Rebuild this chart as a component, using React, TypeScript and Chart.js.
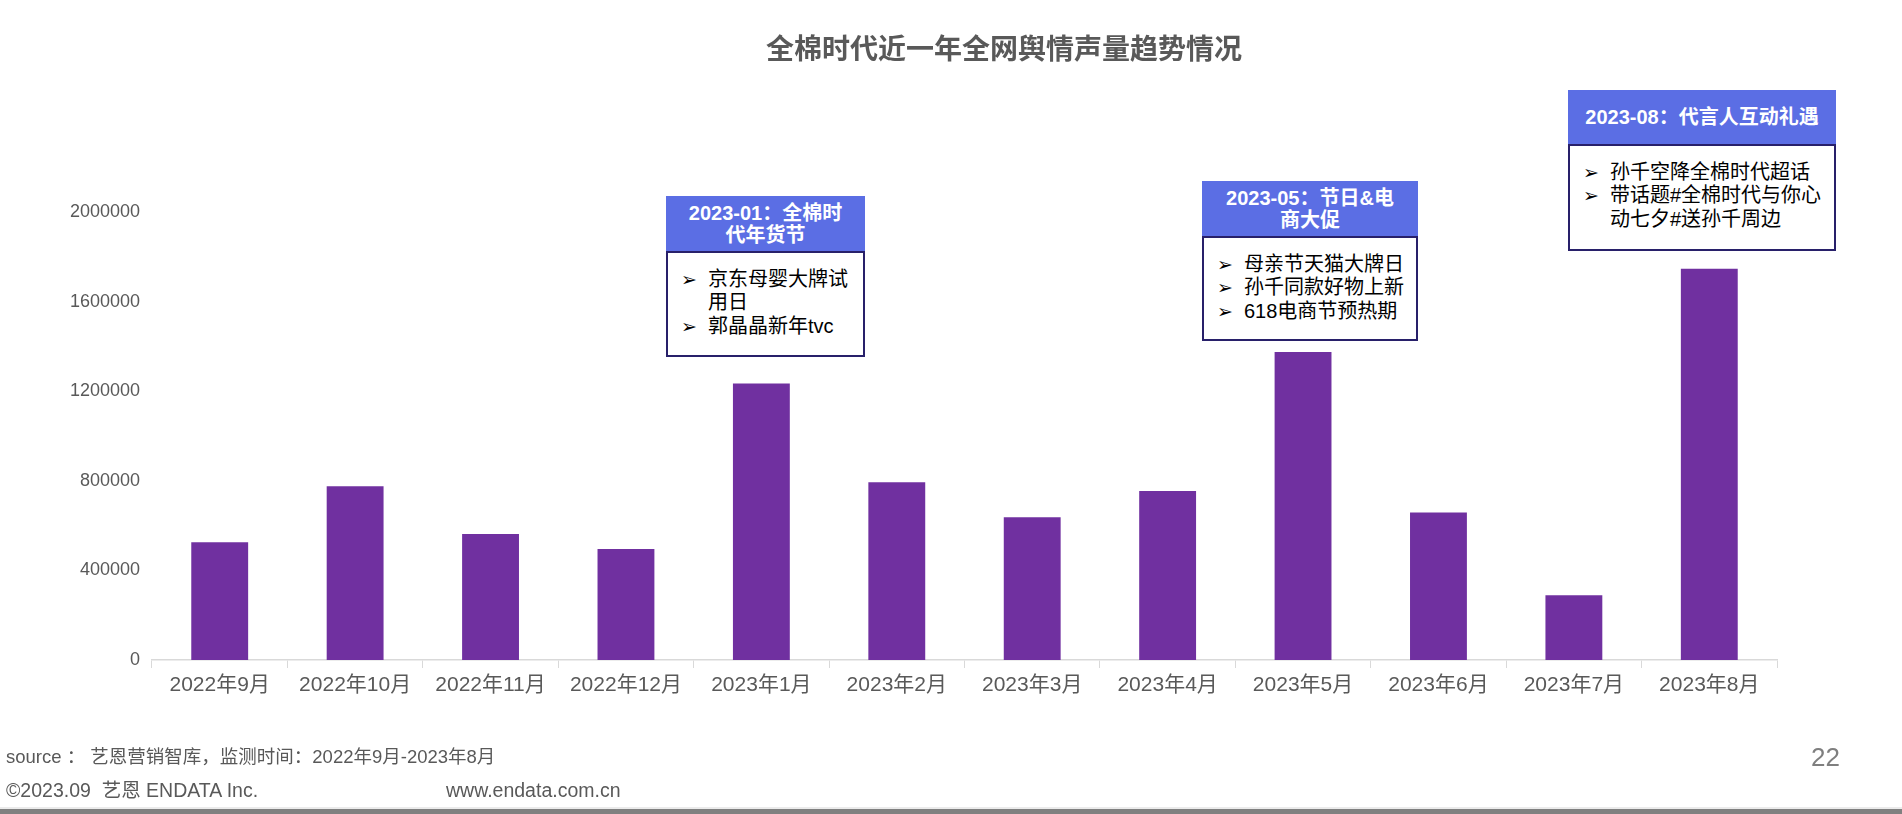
import React, { useEffect, useRef } from "react";
import { Chart, registerables } from "chart.js";

Chart.register(...registerables);

// ---------- data ----------
const categories = [
  "2022年9月", "2022年10月", "2022年11月", "2022年12月",
  "2023年1月", "2023年2月", "2023年3月", "2023年4月",
  "2023年5月", "2023年6月", "2023年7月", "2023年8月",
];
const volumes = [
  526000, 776000, 563000, 495000,
  1234000, 793000, 637000, 754000,
  1375000, 659000, 289000, 1747000,
];
const yTicks = [0, 400000, 800000, 1200000, 1600000, 2000000];

const chartTitle = "全棉时代近一年全网舆情声量趋势情况";
const eventHeaders = [
  "2023-01：全棉时\n代年货节",
  "2023-05：节日&电\n商大促",
  "2023-08：代言人互动礼遇",
];
const eventItems = [
  ["京东母婴大牌试\n用日", "郭晶晶新年tvc"],
  ["母亲节天猫大牌日", "孙千同款好物上新", "618电商节预热期"],
  ["孙千空降全棉时代超话", "带话题#全棉时代与你心\n动七夕#送孙千周边"],
];
const sourceNote = "source ： 艺恩营销智库，监测时间：2022年9月-2023年8月";
const copyrightNote = "©2023.09  艺恩 ENDATA Inc.";
const websiteNote = "www.endata.com.cn";
const pageNumber = "22";

// ---------- layout / style ----------
const W = 1902;
const H = 814;
const FONT = '"Liberation Sans", Arial, "Noto Sans CJK SC", sans-serif';
const BAR = "#7030a0";
const TEXT = "#595959";
const boxLayout = [
  { left: 666, top: 196, width: 199, head: 55, body: 106 },
  { left: 1202, top: 181, width: 216, head: 55, body: 105 },
  { left: 1568, top: 90, width: 268, head: 54, body: 107 },
];

function EventBox({ idx }: { idx: number }) {
  const b = boxLayout[idx];
  return (
    <div style={{ position: "absolute", left: b.left, top: b.top, width: b.width, fontFamily: FONT }}>
      <div
        style={{
          height: b.head,
          background: "#5b6ee4",
          color: "#fff",
          fontWeight: 700,
          fontSize: 20,
          lineHeight: "22px",
          display: "flex",
          alignItems: "center",
          justifyContent: "center",
          textAlign: "center",
          whiteSpace: "pre-line",
        }}
      >
        {eventHeaders[idx]}
      </div>
      <div
        style={{
          height: b.body,
          boxSizing: "border-box",
          border: "2px solid #28206a",
          background: "#fff",
          padding: "15px 4px 0 13px",
          fontSize: 20,
          lineHeight: "23.3px",
          color: "#000",
        }}
      >
        {eventItems[idx].map((t, i) => (
          <div key={i} style={{ display: "flex" }}>
            <span style={{ width: 27, flex: "none", fontFamily: '"DejaVu Sans", sans-serif', fontSize: 19 }}>➢</span>
            <span style={{ whiteSpace: "pre-line" }}>{t}</span>
          </div>
        ))}
      </div>
    </div>
  );
}

export default function App() {
  const ref = useRef<HTMLCanvasElement | null>(null);

  useEffect(() => {
    if (!ref.current) return;
    const chart = new Chart(ref.current, {
      type: "bar",
      data: {
        labels: categories,
        datasets: [
          {
            data: volumes,
            backgroundColor: BAR,
            borderWidth: 0,
            categoryPercentage: 1,
            barPercentage: 0.42,
          },
        ],
      },
      options: {
        responsive: false,
        animation: false,
        devicePixelRatio: 1,
        layout: { padding: { top: 212, right: 125, bottom: 114, left: 0 } },
        plugins: { legend: { display: false }, tooltip: { enabled: false }, title: { display: false } },
        scales: {
          x: {
            afterFit: (s: any) => { s.height = 40; },
            grid: {
              display: true,
              drawOnChartArea: false,
              drawTicks: true,
              tickLength: 8,
              color: "#d9d9d9",
              offset: true,
            },
            border: { display: true, color: "#d9d9d9", width: 1.5 },
            ticks: {
              color: TEXT,
              font: { family: FONT, size: 21 },
              padding: 5,
              maxRotation: 0,
              autoSkip: false,
            },
          },
          y: {
            min: yTicks[0],
            max: yTicks[yTicks.length - 1],
            afterFit: (s: any) => { s.width = 152; },
            afterBuildTicks: (s: any) => { s.ticks = yTicks.map((v) => ({ value: v })); },
            grid: { display: false, drawTicks: false },
            border: { display: false },
            ticks: {
              color: TEXT,
              font: { family: FONT, size: 18 },
              padding: 12,
              callback: (v: any) => String(v),
            },
          },
        },
      },
    });
    return () => chart.destroy();
  }, []);

  return (
    <div style={{ position: "fixed", left: 0, top: 0, width: W, height: H, background: "#fff", overflow: "hidden" }}>
      <canvas ref={ref} width={W} height={H} style={{ position: "absolute", left: 0, top: 0, width: W, height: H }} />
      <div
        style={{
          position: "absolute", left: 704, top: 33, width: 600, textAlign: "center",
          fontFamily: FONT, fontWeight: 700, fontSize: 28, lineHeight: "34px", color: TEXT,
        }}
      >
        {chartTitle}
      </div>
      {eventHeaders.map((_, i) => <EventBox key={i} idx={i} />)}
      <div style={{ position: "absolute", left: 6, top: 746, fontFamily: FONT, fontSize: 18.5, lineHeight: "22px", color: TEXT, whiteSpace: "pre" }}>
        {sourceNote}
      </div>
      <div style={{ position: "absolute", left: 6, top: 779, fontFamily: FONT, fontSize: 19.5, lineHeight: "22px", color: TEXT, whiteSpace: "pre" }}>
        {copyrightNote}
      </div>
      <div style={{ position: "absolute", left: 446, top: 779, fontFamily: FONT, fontSize: 19.5, lineHeight: "22px", color: TEXT, whiteSpace: "pre" }}>
        {websiteNote}
      </div>
      <div style={{ position: "absolute", right: W - 1840, top: 742, fontFamily: FONT, fontSize: 26, lineHeight: "30px", color: "#7f7f7f" }}>
        {pageNumber}
      </div>
      <div style={{ position: "absolute", left: 0, top: 807, width: W, height: 2, background: "#ebebeb" }} />
      <div style={{ position: "absolute", left: 0, top: 809, width: W, height: 5, background: "#808080" }} />
    </div>
  );
}
